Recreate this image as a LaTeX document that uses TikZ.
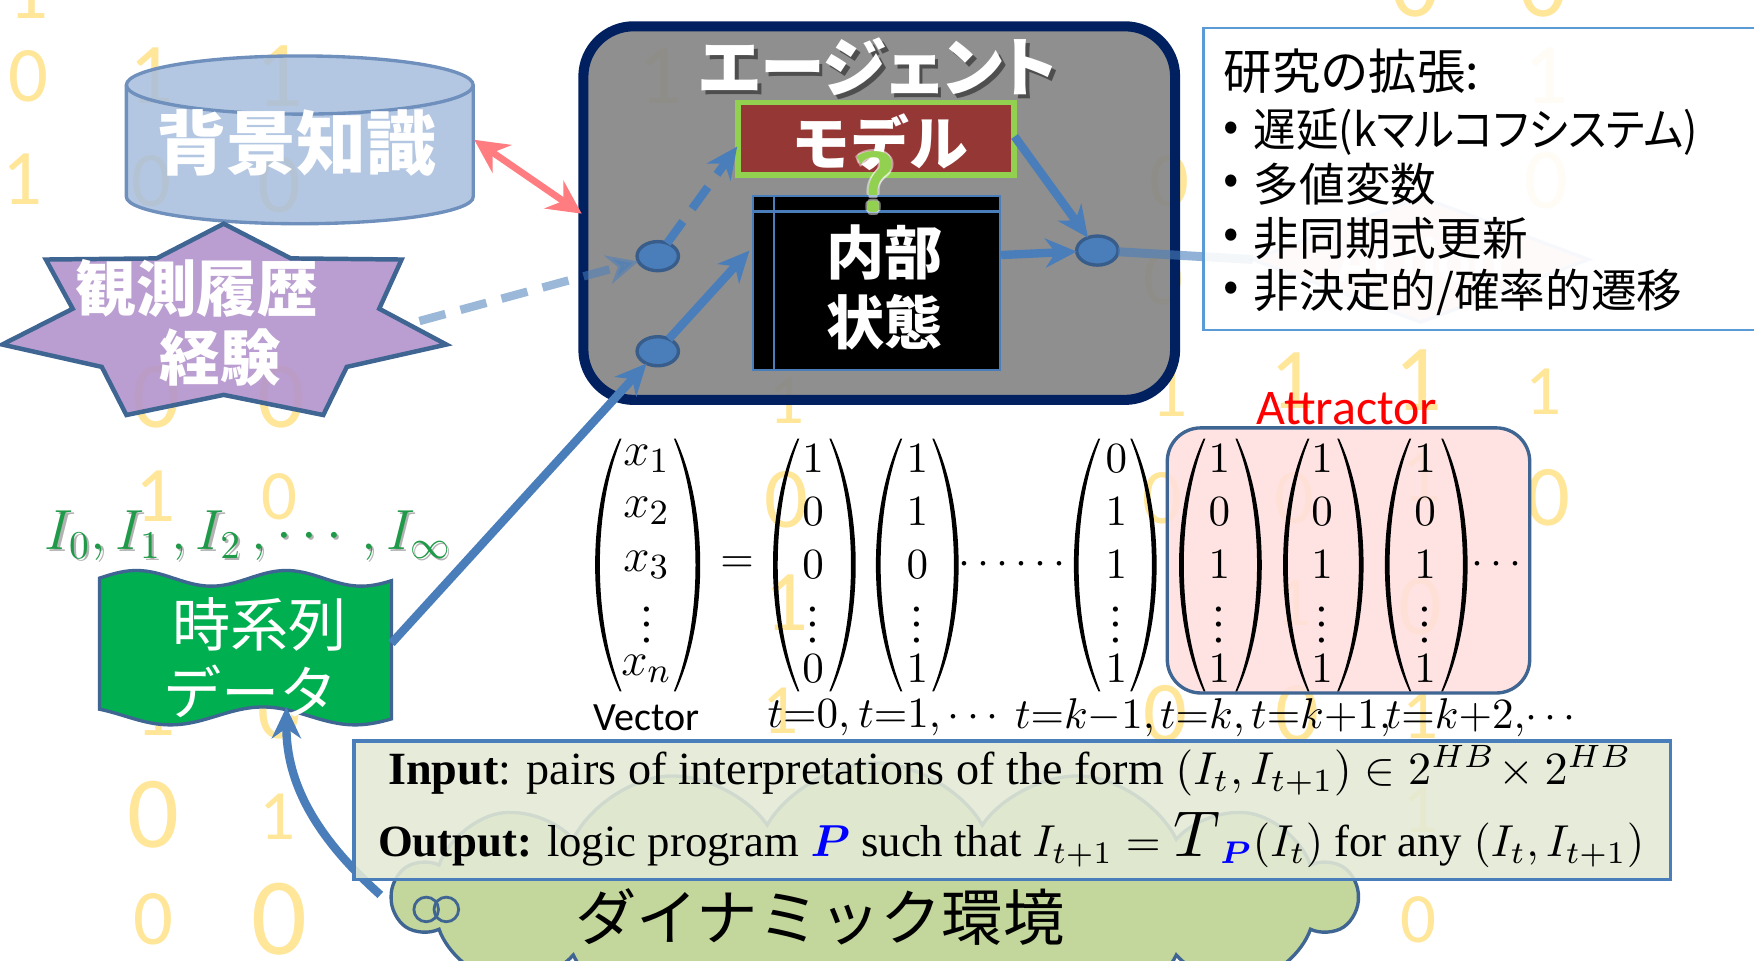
\documentclass[tikz,border=0pt]{standalone}
\usepackage{amsmath}
\usepackage{bm}
\usepackage{graphicx}
\usepackage{fontspec}
\setmainfont{Liberation Serif}
\newfontfamily\jp{Noto Sans CJK JP}
\newfontfamily\jpp[RawFeature=+palt]{Noto Sans CJK JP}
\newfontfamily\calfont{Carlito}
\usetikzlibrary{arrows.meta,shapes.geometric,shapes.symbols}
\newcommand\setfs[1]{\fontsize{#1}{#1}\selectfont}

\definecolor{digityellow}{HTML}{FFE699}
\definecolor{cylfill}{HTML}{A7BEDE}
\definecolor{cylline}{HTML}{6F90BC}
\definecolor{starfill}{HTML}{B494CC}
\definecolor{navyline}{HTML}{002060}
\definecolor{agentfill}{HTML}{878787}
\definecolor{modelfill}{HTML}{953735}
\definecolor{lgreen}{HTML}{92D050}
\definecolor{ablue}{HTML}{4A7EBB}
\definecolor{dblue}{HTML}{385D8A}
\definecolor{shapeline}{HTML}{3F6592}
\definecolor{redarrow}{HTML}{FF7C80}
\definecolor{bannerfill}{HTML}{00B050}
\definecolor{labelgreen}{HTML}{1F9A48}
\definecolor{boxfill}{HTML}{E4EAD6}
\definecolor{cloudfill}{HTML}{C3D69B}
\definecolor{attrfill}{HTML}{FFE0E0}
\definecolor{resline}{HTML}{5B9BD5}
\definecolor{pblue}{HTML}{0000FF}

% a pair of thin curved parentheses around a column centred at x=#1, half width #2
\newcommand\vparens[2]{%
  \fill ({#1-#2+22},392) .. controls ({#1-#2-7.3},455) and ({#1-#2-7.3},555) .. ({#1-#2+22},618)
     -- ({#1-#2+23.6},618) .. controls ({#1-#2-2.2},555) and ({#1-#2-2.2},455) .. ({#1-#2+23.6},392) -- cycle;
  \fill ({#1+#2-22},392) .. controls ({#1+#2+7.3},455) and ({#1+#2+7.3},555) .. ({#1+#2-22},618)
     -- ({#1+#2-23.6},618) .. controls ({#1+#2+2.2},555) and ({#1+#2+2.2},455) .. ({#1+#2-23.6},392) -- cycle;
}
% the entries of one column vector: name, x, rows 1..3, last row
\newcommand\vcol[6]{%
  \node[ent] (#1-1) at (#2,410) {$#3$};
  \node[ent] (#1-2) at (#2,457) {$#4$};
  \node[ent] (#1-3) at (#2,505) {$#5$};
  \node[ent] (#1-4) at (#2,548) {$\vdots$};
  \node[ent] (#1-5) at (#2,598) {$#6$};
}

\begin{document}
\begin{tikzpicture}[x=0.1mm,y=-0.1mm,
  every node/.style={inner sep=0pt,outer sep=0pt},
  bit/.style={font=\calfont\setfs{#1},text=digityellow},
  flow/.style={draw=ablue,line width=0.75mm,-{Stealth[length=2.8mm,width=2.6mm,inset=0.9mm]}},
  dashflow/.style={flow,dash pattern=on 2.4mm off 1.4mm},
  dot/.style={ellipse,draw=dblue,fill=ablue,line width=0.3mm,minimum width=3.7mm,minimum height=2.6mm},
  wtext/.style={text=white,font=\jp\setfs{#1}},
  ent/.style={font=\setfs{11}},
  xent/.style={font=\setfs{13}},
  tlab/.style={font=\setfs{11}},
]
\useasboundingbox (0,0) rectangle (1568,859);
\fill[white] (0,0) rectangle (1568,859);

% scattered binary digits in the background
\foreach \px/\py/\d/\s in {25/-6/1/20, 1265/-12/0/24, 1380/-12/0/24,
  25/68/0/20, 135/68/1/22, 250/68/1/24, 590/68/1/22, 1382/68/1/22,
  20/160/1/20, 135/162/0/20, 250/165/0/22, 1045/162/0/20, 1382/162/0/22,
  1040/250/0/20, 140/355/0/24, 252/355/0/24, 703/358/1/18, 1045/352/1/18,
  1155/340/1/22, 1268/340/1/24, 1380/350/1/18,
  139/444/1/20, 250/444/0/18, 703/447/0/22, 1039/445/0/20, 1157/445/0/20,
  1271/426/1/20, 1384/445/0/22, 703/539/1/22, 1156/539/1/18, 1270/542/0/22,
  139/635/1/20, 250/635/0/22, 698/635/1/18, 1042/638/0/22, 1160/638/0/22,
  1270/640/1/18, 137/728/0/26, 248/730/1/18, 1270/724/1/18,
  137/822/0/20, 250/822/0/28, 1268/822/0/18}
  \node[bit=\s] (d\px x\py) at (\px,\py) {\d};

% background knowledge: cylinder
\fill[cylfill,fill opacity=0.85] (113,76) -- (113,176)
  arc[start angle=180,end angle=0,x radius=155,y radius=24] -- (423,76)
  arc[start angle=0,end angle=-180,x radius=155,y radius=26] -- cycle;
\draw[cylline,line width=0.3mm] (113,76) -- (113,176)
  arc[start angle=180,end angle=0,x radius=155,y radius=24] -- (423,76);
\draw[cylline,line width=0.3mm] (268,76) ellipse[x radius=155,y radius=26];
\node[wtext=17.8,font=\jp\bfseries\setfs{17.8}] (bk) at (265,128) {背景知識};

% observation history: star
\filldraw[draw=shapeline,line width=0.4mm,fill=starfill,fill opacity=0.9]
  (200,200) -- (260,231) -- (359,232) -- (339,276) -- (399,308) -- (310,328)
  -- (289,371) -- (200,353) -- (113,371) -- (91,328) -- (2,308) -- (65,276)
  -- (41,232) -- (140,231) -- cycle;
\node[wtext=15.4,font=\jp\bfseries\setfs{15.4}] (obs1) at (176,258) {観測履歴};
\node[wtext=15.4,font=\jp\bfseries\setfs{15.4}] (obs2) at (197,320) {経験};

% agent
\node[draw=navyline,line width=0.9mm,fill=agentfill,fill opacity=0.93,
  rounded corners=4.5mm,minimum width=52.9mm,minimum height=33.4mm] (agent) at (786,190.5) {};
\node[text=black,opacity=0.45,font=\jpp\bfseries\setfs{16.5}] (agentsh) at (788,63) {エージェント};
\node[text=white,font=\jpp\bfseries\setfs{16.5}] (agenttitle) at (785,60) {エージェント};

\node[draw=lgreen,line width=0.5mm,fill=modelfill,minimum width=24.7mm,minimum height=6.5mm] (model) at (783,124) {};
\node[text=white,font=\jp\bfseries\setfs{15}] (modeltext) at (787,127) {モデル};

\node[draw=ablue,line width=0.2mm,fill=black,minimum width=22.1mm,minimum height=15.6mm] (state) at (783.5,253) {};
\draw[ablue,line width=0.2mm] (672,189) -- (895,189) (692,174) -- (692,332);
\node[wtext=14.8,font=\jp\bfseries\setfs{14.8}] (state1) at (791,226) {内部};
\node[wtext=14.8,font=\jp\bfseries\setfs{14.8}] (state2) at (791,288) {状態};

\foreach \dx/\dy in {-2/0,2/0,0/-2,0/2}
  \node[text=white,opacity=0.5,font=\sffamily\bfseries\setfs{22}] at ({782+\dx},{163+\dy}) {?};
\node[text=lgreen,font=\sffamily\bfseries\setfs{22}] (qmark) at (782,163) {?};

\node[dot] (c1) at (588,229) {};
\node[dot] (c2) at (588,314) {};
\node[dot] (c3) at (981,224) {};

\coordinate (modelIn) at (659,131);
\coordinate (stateIn) at (670,224);
\coordinate (modelOut) at (907,122);
\coordinate (stateOut) at (895,228);
\draw[dashflow] (c1) -- (modelIn);
\draw[flow] (c2) -- (stateIn);
\draw[flow] (modelOut) -- (c3);
\draw[flow] (stateOut) -- (c3);

% research extensions, with the faded action diamond behind
\node[diamond,draw=ablue!50,line width=0.3mm,fill=red!18,minimum width=30mm,minimum height=11.2mm] (action) at (1270,232) {};
\node[text=white,font=\calfont\bfseries\setfs{16}] (actiontext) at (1270,232) {Action};
\draw[ablue,line width=0.8mm,opacity=0.6] (c3) -- (action.west);
\node[draw=resline,line width=0.25mm,fill=white,fill opacity=0.9,anchor=north west,
  minimum width=50mm,minimum height=27mm] (research) at (1076,25) {};
\node[anchor=west,font=\jp\setfs{12.3}] (rt0) at (1094,64) {研究の拡張:};
\node[font=\jp\setfs{11.6}] (bul1) at (1101,118) {•};
\node[anchor=west,font=\jpp\setfs{11.6}] (rt1) at (1121,118) {\scalebox{0.93}[1]{遅延(kマルコフシステム)}};
\foreach \i/\yy/\t in {2/165/{多値変数},3/213/{非同期式更新},4/261/{非決定的/確率的遷移}}{
  \node[font=\jp\setfs{11.6}] (bul\i) at (1101,\yy) {•};
  \node[anchor=west,font=\jpp\setfs{11.6}] (rt\i) at (1121,\yy) {\t};
}

% attractor
\node[text=red,font=\calfont\setfs{12.7}] (attrlab) at (1204,365) {Attractor};
\node[draw=shapeline,line width=0.3mm,fill=attrfill,fill opacity=0.88,rounded corners=3mm,
  minimum width=32.4mm,minimum height=23.7mm] (attr) at (1205.5,501) {};

% state vectors
\vparens{579}{47}
\node[xent] (vx-1) at (578,410) {$x_1$};
\node[xent] (vx-2) at (578,457) {$x_2$};
\node[xent] (vx-3) at (578,505) {$x_3$};
\node[ent] (vx-4) at (578,548) {$\vdots$};
\node[xent] (vx-5) at (578,598) {$x_n$};
\node[ent] (eq) at (659,505) {$=$};
\vparens{728}{37}
\vcol{va}{727}{1}{0}{0}{0}
\vparens{820}{37}
\vcol{vb}{820}{1}{1}{0}{1}
\node[ent] (gap) at (908,505) {$\cdots\cdots$};
\vparens{997}{37}
\vcol{vc}{998}{0}{1}{1}{1}
\vparens{1091}{37}
\vcol{vd}{1090}{1}{0}{1}{1}
\vparens{1183}{36}
\vcol{ve}{1182}{1}{0}{1}{1}
\vparens{1275}{37}
\vcol{vf}{1274}{1}{0}{1}{1}
\node[ent] (more) at (1341,505) {$\cdots$};

\node[font=\calfont\setfs{10.2}] (veclab) at (578,642) {Vector};
\node[tlab] (t0) at (723,642) {$t{=}0,$};
\node[tlab] (t1) at (833,642) {$t{=}1,\cdots$};
\node[tlab] (t2) at (970,642) {$t{=}k{-}1,$};
\node[tlab] (t3) at (1075,642) {$t{=}k,$};
\node[tlab] (t4) at (1181,642) {$t{=}k{+}1,$};
\node[tlab] (t5) at (1327,642) {$t{=}k{+}2,\!\cdots$};

% time-series data banner
\draw[draw=shapeline,line width=0.3mm,fill=bannerfill]
  plot[domain=89:350,samples=70,smooth] (\x,{517-7*cos(2.6866*(\x-122))})
  -- plot[domain=350:89,samples=70,smooth] (\x,{640-8*cos(2.1818*(\x-235))})
  -- cycle;
\node[wtext=14.8] (ts1) at (232,558) {時系列};
\node[wtext=14.8] (ts2) at (224,618) {データ};
\node[text=black,opacity=0.3,font=\setfs{13.8}] (seqsh) at (224,481) {$I_0, I_1\,, I_2\,, \cdots, I_\infty$};
\node[text=labelgreen,font=\setfs{13.8}] (seq) at (222,479) {$I_0, I_1\,, I_2\,, \cdots, I_\infty$};

% connectors into the agent
\coordinate (cylR) at (424,125);
\coordinate (agentL) at (520,191);
\draw[redarrow,line width=0.6mm,{Stealth[length=3mm,width=3mm,inset=1mm]}-{Stealth[length=3mm,width=3mm,inset=1mm]}] (cylR) -- (agentL);
\coordinate (starR) at (375,287);
\draw[dashflow,opacity=0.55] (starR) -- (c1);
\coordinate (wOut) at (350,575);
\draw[flow] (wOut) -- (c2);

% dynamic environment cloud
\node[cloud,cloud puffs=14,cloud puff arc=120,aspect=3.6,draw=shapeline,line width=0.3mm,
  fill=cloudfill,minimum width=86mm,minimum height=24mm] (env) at (782,802) {};
\node[circle,draw=shapeline,line width=0.25mm,minimum size=2.2mm] (bub1) at (381,813) {};
\node[circle,draw=shapeline,line width=0.25mm,minimum size=2.2mm] (bub2) at (399,813) {};
\coordinate (envL) at (340,800);
\coordinate (wBot) at (256,632);
\draw[flow] (envL) .. controls (282,748) and (256,700) .. (wBot);

% learning task box
\node[draw=ablue,line width=0.3mm,fill=boxfill,fill opacity=0.88,minimum width=117.7mm,minimum height=12.4mm] (io) at (905,724.5) {};
\node (inLine) at (903,689) {\resizebox{111.2mm}{!}{\textbf{Input}: pairs of interpretations of the form $(I_t, I_{t+1}) \in 2^{HB}\!\times 2^{HB}$}};
\node (outLine) at (904,751) {\resizebox{113.2mm}{!}{\textbf{Output:} logic program {\color{pblue}$\bm{P}$} such that $I_{t+1} = \scalebox{1.45}{$T$}_{\color{pblue}\bm{P}}(I_t)$ for any $(I_t, I_{t+1})$}};
\node[font=\jp\setfs{15.6}] (envtext) at (733,820) {ダイナミック環境};
\end{tikzpicture}
\end{document}
